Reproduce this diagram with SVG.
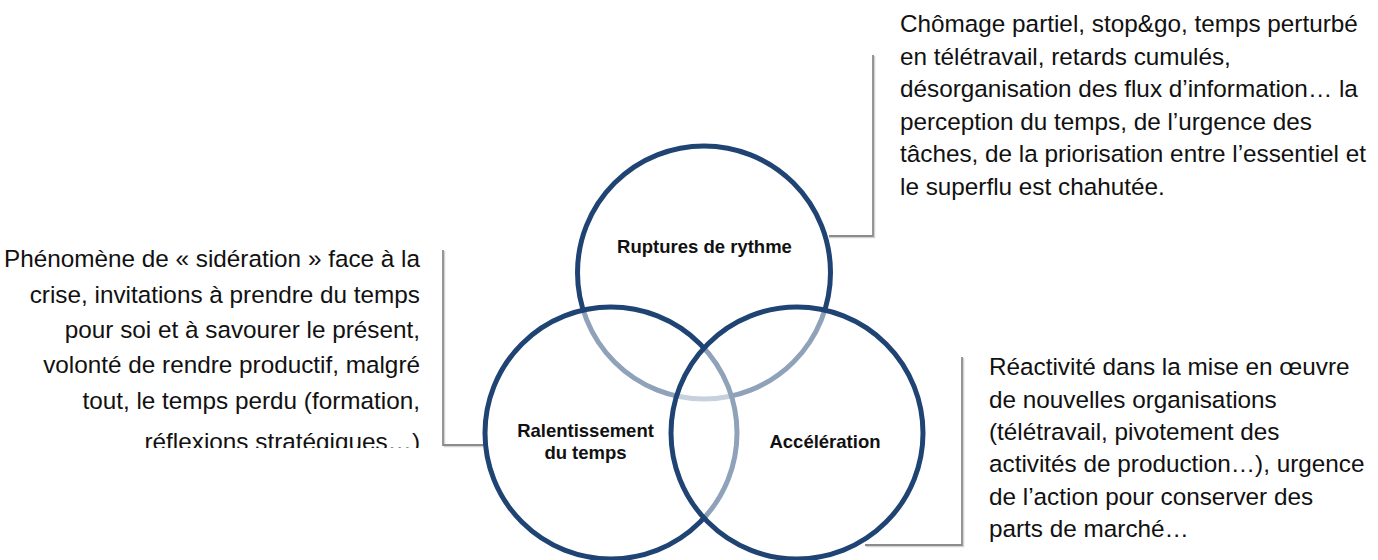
<svg xmlns="http://www.w3.org/2000/svg" width="1378" height="560" viewBox="0 0 1378 560">
  <style>
    .circle { fill: #ffffff; fill-opacity: 0.5; stroke: #1f4474; stroke-width: 5; }
    .label { font-family: "Liberation Sans", Arial, sans-serif; font-weight: bold; font-size: 18.5px; fill: #111111; text-anchor: middle; }
    .body { font-family: "Liberation Sans", Arial, sans-serif; font-size: 24.3px; fill: #111111; }
    .conn { fill: none; stroke: #8c8c8c; stroke-width: 1.8; }
    .connsh { fill: none; stroke: #d4d4d4; stroke-width: 1.5; }
  </style>
  <defs>
    <clipPath id="clipLeft">
      <rect x="0" y="230" width="440" height="218"/>
    </clipPath>
  </defs>
  <rect width="1378" height="560" fill="#ffffff"/>

  <g id="connectors">
    <polyline class="connsh" points="829,237.5 874.5,237.5 874.5,56"/>
    <polyline class="conn" points="829,236 873,236 873,55"/>
    <polyline class="connsh" points="444.5,251 444.5,446.5 483,446.5"/>
    <polyline class="conn" points="443,250 443,445 483,445"/>
    <polyline class="connsh" points="866,546.5 963.5,546.5 963.5,358"/>
    <polyline class="conn" points="865,545 962,545 962,357"/>
  </g>

  <g id="node-ruptures">
    <circle class="circle" cx="704" cy="272.5" r="126.5"/>
  </g>
  <g id="node-ralentissement">
    <circle class="circle" cx="611" cy="433" r="126"/>
  </g>
  <g id="node-acceleration">
    <circle class="circle" cx="797" cy="433" r="126"/>
  </g>

  <g id="labels">
    <text class="label" x="704.5" y="253">Ruptures de rythme</text>
    <text class="label" x="585.5" y="437">Ralentissement</text>
    <text class="label" x="585.5" y="459">du temps</text>
    <text class="label" x="825" y="448">Accélération</text>
  </g>

  <g id="text-ruptures" class="body">
    <text x="900" y="32">Chômage partiel, stop&amp;go, temps perturbé</text>
    <text x="900" y="64.5">en télétravail, retards cumulés,</text>
    <text x="900" y="97">désorganisation des flux d’information… la</text>
    <text x="900" y="129.5">perception du temps, de l’urgence des</text>
    <text x="900" y="162">tâches, de la priorisation entre l’essentiel et</text>
    <text x="900" y="194.5">le superflu est chahutée.</text>
  </g>

  <g id="text-ralentissement" class="body" text-anchor="end" clip-path="url(#clipLeft)">
    <text x="420" y="267">Phénomène de « sidération » face à la</text>
    <text x="420" y="302.5">crise, invitations à prendre du temps</text>
    <text x="420" y="338">pour soi et à savourer le présent,</text>
    <text x="420" y="373">volonté de rendre productif, malgré</text>
    <text x="420" y="408.5">tout, le temps perdu (formation,</text>
    <text x="420" y="450">réflexions stratégiques…)</text>
  </g>

  <g id="text-acceleration" class="body">
    <text x="989" y="375">Réactivité dans la mise en œuvre</text>
    <text x="989" y="407.5">de nouvelles organisations</text>
    <text x="989" y="440">(télétravail, pivotement des</text>
    <text x="989" y="472">activités de production…), urgence</text>
    <text x="989" y="504.5">de l’action pour conserver des</text>
    <text x="989" y="537">parts de marché…</text>
  </g>
</svg>
